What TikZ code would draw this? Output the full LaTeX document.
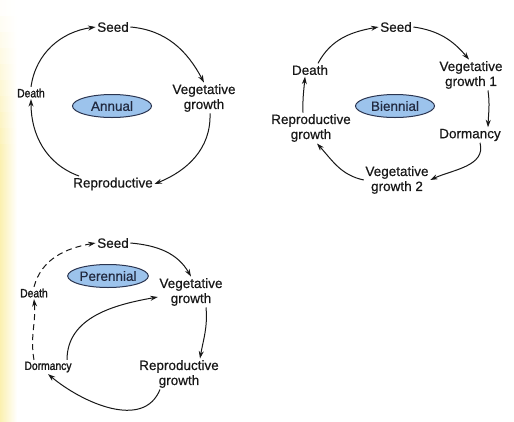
\documentclass[tikz,border=0pt]{standalone}
\usepackage{fontspec}
\setmainfont{Liberation Sans}[FakeBold=0.5]
\newfontfamily\narrowb{Liberation Sans}[FakeStretch=0.86,FakeBold=1.6]
\usetikzlibrary{arrows.meta,shapes.geometric}
\definecolor{txt}{HTML}{181818}
\definecolor{ellfill}{HTML}{9CC3EC}
\definecolor{elldraw}{HTML}{2B3550}
\definecolor{scanyel}{HTML}{FBF0B0}
\tikzset{
  lbl/.style={inner sep=1.5pt, text=txt, align=center, font=\fontsize{13.5}{15}\selectfont},
  small/.style={inner sep=1.5pt, text=txt, align=center, font=\narrowb\fontsize{12}{13}\selectfont},
  cyc/.style={ellipse, draw=elldraw, line width=1pt, fill=ellfill, minimum width=79pt, minimum height=23pt, inner sep=0pt, text=elldraw!80!black, font=\fontsize{13.5}{15}\selectfont},
  arr/.style={draw=txt, line width=1pt, -{Stealth[length=7.5pt,width=5pt]}},
  darr/.style={arr, dash pattern=on 6pt off 4pt}
}
\begin{document}
\begin{tikzpicture}[x=1pt,y=-1pt]
\fill[white] (0,0) rectangle (514,421);
\foreach \i in {0,...,9}{
  \pgfmathtruncatemacro{\pc}{\i*10+5}
  \shade[left color=scanyel!\pc!white, right color=white, draw=none] (0,{\i*16}) rectangle (17,{\i*16+16.5});
}
\shade[left color=scanyel, right color=white] (0,160) rectangle (17,421);
\useasboundingbox (0,0) rectangle (514,421);

% Annual
\node[lbl] (aseed) at (113,27) {Seed};
\node[lbl] (aveg) at (204,98) {Vegetative\\growth};
\node[small] (adeath) at (31,93) {Death};
\node[lbl] (arep) at (113,184) {Reproductive};
\node[cyc] (aann) at (112,106) {Annual};
\draw[arr] (adeath.north) to[out=82,in=188] (aseed.west);
\draw[arr] (aseed.east) to[out=-5,in=118] (aveg.north);
\draw[arr] ([xshift=6pt]aveg.south) to[out=-88,in=22] (arep.east);
\draw[arr] ([xshift=-34pt]arep.north) to[out=160,in=-90] (adeath.south);

% Biennial
\node[lbl] (bseed) at (396,27) {Seed};
\node[lbl] (bveg1) at (471,75) {Vegetative\\growth 1};
\node[lbl] (bdorm) at (470,135) {Dormancy};
\node[lbl] (bveg2) at (397,180) {Vegetative\\growth 2};
\node[lbl] (brep) at (311,128) {Reproductive\\growth};
\node[lbl] (bdeath) at (310,70) {Death};
\node[cyc] (bbi) at (395,106) {Biennial};
\draw[arr] ([xshift=8pt]bdeath.north) to[out=62,in=190] (bseed.west);
\draw[arr] (bseed.east) to[out=-8,in=130] ([xshift=-2pt]bveg1.north);
\draw[arr] ([xshift=17pt]bveg1.south) to[out=-82,in=88] ([xshift=18pt]bdorm.north);
\draw[arr] ([xshift=10pt]bdorm.south) to[out=-75,in=25] (bveg2.east);
\draw[arr] (bveg2.west) to[out=168,in=-48] ([xshift=6pt]brep.south);
\draw[arr] ([xshift=-8pt]brep.north) to[out=92,in=-95] ([xshift=-5pt]bdeath.south);

% Perennial
\node[lbl] (pseed) at (113,243) {Seed};
\node[cyc] (pper) at (108,276) {Perennial};
\node[lbl] (pveg) at (191,292) {Vegetative\\growth};
\node[small] (pdeath) at (34,293) {Death};
\node[small] (pdorm) at (48,367) {Dormancy};
\node[lbl] (prep) at (179,374) {Reproductive\\growth};
\draw[darr] (pdeath.north) to[out=75,in=190] (pseed.west);
\draw[arr] (pseed.east) to[out=-5,in=120] (pveg.north);
\draw[arr] ([xshift=15pt]pveg.south) to[out=-85,in=80] ([xshift=21pt]prep.north);
\draw[arr] ([xshift=-19pt]prep.south) to[out=-112,in=-40] (pdorm.south);
\draw[arr] ([xshift=19pt]pdorm.north) to[out=90,in=190] ([yshift=-5pt]pveg.west);
\draw[darr] ([xshift=-14pt]pdorm.north) to[out=100,in=-85] (pdeath.south);
\end{tikzpicture}
\end{document}
